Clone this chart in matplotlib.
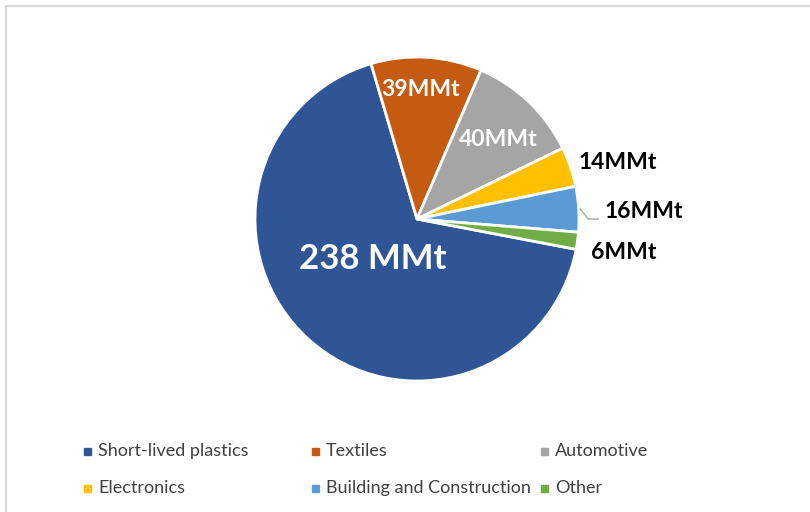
import numpy as np
import matplotlib.pyplot as plt
from matplotlib.patches import Rectangle

# data
categories = ["Short-lived plastics", "Textiles", "Automotive",
              "Electronics", "Building and Construction", "Other"]
values = [238, 39, 40, 14, 16, 6]
value_labels = ["238 MMt", "39MMt", "40MMt", "14MMt", "16MMt", "6MMt"]
colors = ["#2F5597", "#C55A11", "#A5A5A5", "#FFC000", "#5B9BD5", "#70AD47"]

# label styling: radius fraction, angle offset (deg), colour, size
label_r = [0.37, 0.80, 0.70, 1.29, 1.40, 1.29]
label_dang = [-6, 2, -2, -3, -1.5, -1.5]
label_col = ["white", "white", "white", "black", "black", "black"]
label_size = [25, 16.5, 16.5, 16.5, 16.5, 16.5]

W, H = 810, 512
cx, cy, rad = 417, H - 219, 162

fig = plt.figure(figsize=(W / 100, H / 100), dpi=100)
ax = fig.add_axes([0, 0, 1, 1])

# chart frame (only top and left edges visible)
ax.add_patch(Rectangle((6, -20), W + 40, H - 6 + 20, fill=False,
                       edgecolor="#d9d9d9", linewidth=1.5))

wedges, _ = ax.pie(values, colors=colors, startangle=-10.8, counterclock=False,
                   center=(cx, cy), radius=rad, frame=True,
                   wedgeprops=dict(edgecolor="white", linewidth=2))
ax.set_xlim(0, W)
ax.set_ylim(0, H)
ax.set_aspect("auto")
ax.axis("off")

for w, lab, r, da, c, s in zip(wedges, value_labels, label_r, label_dang,
                               label_col, label_size):
    mid = np.deg2rad((w.theta1 + w.theta2) / 2 + da)
    x = cx + r * rad * np.cos(mid)
    y = cy + r * rad * np.sin(mid)
    ax.text(x, y, lab, ha="center", va="center", color=c, fontsize=s,
            fontweight="bold", family="Lato")

# leader line for the Building and Construction label
w = wedges[4]
mid = np.deg2rad((w.theta1 + w.theta2) / 2)
p0 = (cx + 1.01 * rad * np.cos(mid), cy + 1.01 * rad * np.sin(mid))
ax.plot([p0[0], p0[0] + 8, p0[0] + 18], [p0[1], p0[1] - 10, p0[1] - 10],
        color="#a6a6a6", linewidth=1)

# legend laid out like Excel's (3 columns, 2 rows)
leg_cols = [87, 315, 544]
leg_rows = [H - 451, H - 488]
for i, (name, c) in enumerate(zip(categories, colors)):
    x = leg_cols[i % 3]
    y = leg_rows[i // 3]
    ax.add_patch(Rectangle((x - 3.5, y - 3.5), 7, 7, color=c))
    ax.text(x + 11, y, name, ha="left", va="center", fontsize=13,
            family="Lato", color="#404040")

fig.savefig("out.png", dpi=100)
